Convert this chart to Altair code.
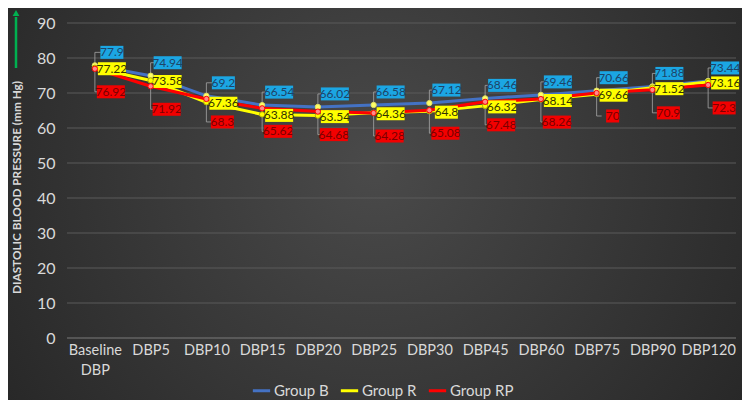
import altair as alt
import pandas as pd

categories = ["Baseline DBP", "DBP5", "DBP10", "DBP15", "DBP20", "DBP25",
              "DBP30", "DBP45", "DBP60", "DBP75", "DBP90", "DBP120"]
group_b = [77.9, 74.94, 69.2, 66.54, 66.02, 66.58, 67.12, 68.46, 69.46, 70.66, 71.88, 73.44]
group_r = [77.22, 73.58, 67.36, 63.88, 63.54, 64.36, 64.8, 66.32, 68.14, 69.66, 71.52, 73.16]
group_rp = [76.92, 71.92, 68.3, 65.62, 64.68, 64.28, 65.08, 67.48, 68.26, 70, 70.9, 72.3]
series_names = ["Group B", "Group R", "Group RP"]
y_ticks = [0, 10, 20, 30, 40, 50, 60, 70, 80, 90]

# styles
line_colors = ["#4472c4", "#ffff00", "#ff0000"]
marker_fill = ["#ffff66", "#ffff00", "#ff8a8a"]
marker_stroke = ["#e0e060", "#b0b000", "#ff0000"]
box_colors = ["#1ba6e3", "#ffff00", "#f20000"]
box_text_colors = ["#1e4468", "#333300", "#7a0000"]
label_dx = [17, 17, 16]
label_dy = [-13, 1, 23]
leader_paths = ["M0,0L0,-13L6,-13", None, "M0,0L0,23L5,23"]

W, H = 669, 315
FONT = "Lato"
TXT = "#d9d9d9"

rows = []
for name, vals in zip(series_names, [group_b, group_r, group_rp]):
    for c, v in zip(categories, vals):
        lab = f"{v:g}"
        w = len(lab) * 5.0 + 3
        rows.append({
            "category": c, "group": name, "value": v, "label": lab,
            "box": f"M{-w/2:.1f},-6.5H{w/2:.1f}V6.5H{-w/2:.1f}Z",
        })
df = pd.DataFrame(rows)

y_scale = alt.Scale(domain=[0, 90], nice=False)
y_title = "DIASTOLIC BLOOD PRESSURE  (mm Hg)"

x_enc = alt.X("category:N", sort=categories, scale=alt.Scale(paddingInner=1, paddingOuter=0.5),
              axis=alt.Axis(title=None, labelExpr="split(datum.label, ' ')", labelAngle=0,
                            labelColor=TXT, labelFontSize=14.5, labelFont=FONT,
                            labelLineHeight=20, labelPadding=12, ticks=False, domain=False,
                            grid=False, labelBaseline="middle", zindex=1))
y_axis = alt.Axis(values=y_ticks, title=y_title,
                  titleColor=TXT, titleFontSize=11.8, titleFont=FONT,
                  titleFontWeight="bold", titleX=-51, titleY=164, titleAngle=-90,
                  titleAlign="center", titleBaseline="middle",
                  labelColor=TXT, labelFontSize=16, labelFont=FONT,
                  labelPadding=12, ticks=False, domain=False, grid=False, zindex=1)

base = alt.Chart(df)

one = pd.DataFrame({"k": [0]})
bg = alt.Chart(one).mark_rect(
    fill=alt.RadialGradient(
        gradient="radial", x1=0.5, y1=0.45, x2=0.5, y2=0.45, r1=0, r2=0.75,
        stops=[alt.GradientStop(offset=0, color="#4a4a4a"),
               alt.GradientStop(offset=1, color="#1f1f1f")]),
).encode(x=alt.value(-59), x2=alt.value(W + 6), y=alt.value(-15), y2=alt.value(H + 62))

ticks_df = pd.DataFrame({"tick": y_ticks})
grid = alt.Chart(ticks_df).transform_filter(alt.datum.tick > 0).mark_rule(
    color="#5a5a5a", strokeWidth=1).encode(
    y=alt.Y("tick:Q", scale=y_scale, axis=y_axis, title=y_title))
grid0 = alt.Chart(ticks_df).transform_filter(alt.datum.tick == 0).mark_rule(
    color="#7a7a7a", strokeWidth=1.2).encode(
    y=alt.Y("tick:Q", scale=y_scale, axis=y_axis, title=y_title))

arrow_line = alt.Chart(one).mark_rule(color="#00b050", strokeWidth=2.5).encode(
    x=alt.value(-51), y=alt.value(-6), y2=alt.value(45))
arrow_head = alt.Chart(one).mark_point(shape="triangle-up", filled=True, color="#00b050",
                                       size=45, opacity=1).encode(
    x=alt.value(-51), y=alt.value(-10))

y_enc = alt.Y("value:Q", scale=y_scale, axis=y_axis, title=y_title)
x_plain = alt.X("category:N", sort=categories)

lines = base.mark_line(strokeWidth=3).encode(
    x=x_enc, y=y_enc,
    color=alt.Color("group:N", sort=series_names,
                    scale=alt.Scale(domain=series_names, range=line_colors),
                    legend=alt.Legend(title=None, orient="none", direction="horizontal",
                                      legendX=184, legendY=357,
                                      symbolType="stroke", symbolStrokeWidth=3, symbolSize=300,
                                      labelColor=TXT, labelFontSize=15, labelFont=FONT,
                                      columnPadding=5, labelOffset=2)),
    order=alt.Order("group:N"),
)

points = base.mark_point(filled=True, size=28, strokeWidth=1, opacity=1).encode(
    x=x_plain, y=y_enc,
    fill=alt.Fill("group:N", scale=alt.Scale(domain=series_names, range=marker_fill), legend=None),
    stroke=alt.Stroke("group:N", scale=alt.Scale(domain=series_names, range=marker_stroke), legend=None),
)

layers = [bg, grid, grid0, arrow_line, arrow_head, lines]

for i, name in enumerate(series_names):
    if leader_paths[i]:
        sub = base.transform_filter(alt.datum.group == name)
        layers.append(sub.mark_point(shape=leader_paths[i], size=4, filled=False,
                                     color="#a6a6a6", strokeWidth=0.8, opacity=1).encode(
            x=x_plain, y=y_enc))

layers.append(points)

for i, name in enumerate(series_names):
    sub = base.transform_filter(alt.datum.group == name)
    box = sub.mark_point(filled=True, size=4, opacity=1, strokeWidth=0,
                         color=box_colors[i], xOffset=label_dx[i], yOffset=label_dy[i]).encode(
        x=x_plain, y=y_enc,
        shape=alt.Shape("box:N", scale=None, legend=None))
    txt = sub.mark_text(dx=label_dx[i], dy=label_dy[i], fontSize=12, font=FONT,
                        color=box_text_colors[i], baseline="middle", align="center").encode(
        x=x_plain, y=y_enc, text="label:N")
    layers += [box, txt]

chart = alt.layer(*layers).properties(
    width=W, height=H,
    autosize=alt.AutoSizeParams(type="none"),
    padding={"left": 59, "top": 15, "right": 6, "bottom": 62},
).configure(background="#2a2a2a").configure_view(stroke=None)

chart.save("out.html", embed_options={"renderer": "svg", "actions": False})
